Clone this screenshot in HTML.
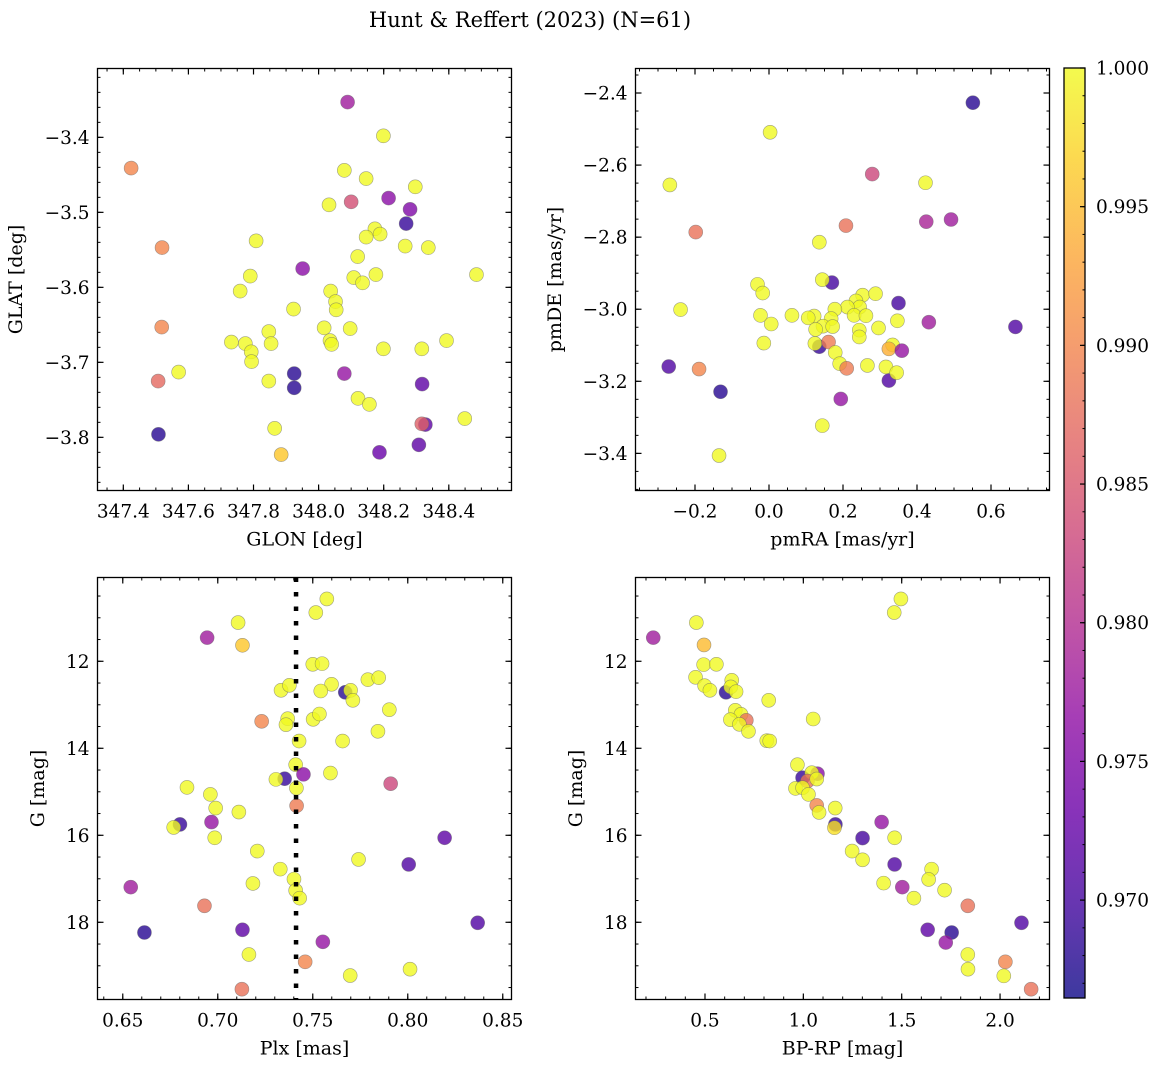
<!DOCTYPE html>
<html><head><meta charset="utf-8"><style>
html,body{margin:0;padding:0;background:#fff;}
svg{display:block;font-family:"DejaVu Serif","Liberation Serif",serif;}
</style></head><body>
<svg id="fig" width="1161" height="1067" viewBox="0 0 1161 1067" xmlns="http://www.w3.org/2000/svg">
<defs><linearGradient id="plasmaGrad" x1="0" y1="1" x2="0" y2="0"></linearGradient></defs>
<text x="530" y="27" text-anchor="middle" font-size="21">Hunt &amp; Reffert (2023) (N=61)</text>
</svg>
<script>
// ---- Panel 1 data: GLON / GLAT ----
const glon=[348.089,348.199,347.424,348.079,348.146,348.297,348.215,348.100,348.032,348.281,348.269,348.173,348.189,348.146,347.808,347.519,348.266,348.337,348.120,347.951,347.790,348.108,348.176,348.485,348.135,347.759,348.037,348.052,348.054,347.923,348.017,348.097,347.847,347.518,348.035,348.040,347.732,347.775,347.854,347.793,348.199,348.317,348.393,347.794,347.570,347.925,348.079,347.507,347.847,347.925,348.318,348.121,348.156,348.449,348.328,348.317,347.865,347.508,348.308,348.187,347.885];
const glat=[-3.353,-3.398,-3.441,-3.444,-3.455,-3.466,-3.481,-3.486,-3.490,-3.496,-3.515,-3.522,-3.529,-3.533,-3.538,-3.547,-3.545,-3.547,-3.559,-3.575,-3.585,-3.587,-3.583,-3.583,-3.594,-3.605,-3.605,-3.619,-3.630,-3.629,-3.654,-3.655,-3.659,-3.653,-3.671,-3.676,-3.673,-3.675,-3.675,-3.686,-3.682,-3.682,-3.671,-3.699,-3.713,-3.715,-3.715,-3.725,-3.725,-3.734,-3.729,-3.748,-3.756,-3.775,-3.783,-3.782,-3.788,-3.796,-3.810,-3.820,-3.823];
const prob1=[0.978,1,0.990,1,1,1,0.976,0.984,1,0.975,0.969,1,1,1,1,0.990,1,1,1,0.976,1,1,1,1,1,1,1,1,1,1,1,1,1,0.990,1,1,1,1,1,1,1,1,1,1,1,0.968,0.977,0.987,1,0.968,0.972,1,1,1,0.972,0.986,1,0.968,0.972,0.973,0.996];
// ---- Panel 2 data: pmRA / pmDE ----
const pmra=[0.551,0.003,0.279,0.423,-0.268,0.492,0.425,0.208,-0.198,0.136,0.170,0.144,-0.031,-0.017,0.253,0.288,0.350,-0.239,0.235,0.245,0.212,0.178,-0.023,0.062,0.122,0.106,0.230,0.262,0.168,0.006,0.146,0.172,0.126,0.347,0.432,0.296,0.666,0.244,0.244,-0.014,0.136,0.124,0.161,0.334,0.324,0.359,0.179,-0.271,0.191,-0.189,0.210,0.266,0.316,0.324,0.345,-0.131,0.194,0.144,-0.135];
const pmde=[-2.427,-2.509,-2.625,-2.649,-2.655,-2.751,-2.757,-2.768,-2.786,-2.814,-2.926,-2.918,-2.931,-2.955,-2.961,-2.957,-2.983,-3.001,-2.977,-2.994,-2.994,-3.000,-3.017,-3.017,-3.019,-3.024,-3.017,-3.018,-3.026,-3.041,-3.047,-3.048,-3.056,-3.032,-3.036,-3.052,-3.049,-3.058,-3.077,-3.094,-3.104,-3.095,-3.091,-3.099,-3.110,-3.115,-3.120,-3.159,-3.151,-3.166,-3.164,-3.156,-3.160,-3.198,-3.176,-3.229,-3.249,-3.323,-3.406];
const prob2=[0.968,1,0.983,1,1,0.978,0.979,0.988,0.988,1,0.970,1,1,1,1,1,0.970,1,1,1,1,1,1,1,1,1,1,1,1,1,1,1,1,1,0.978,1,0.971,1,1,1,0.969,1,0.989,1,0.994,0.977,1,0.971,1,0.990,0.989,1,1,0.971,1,0.968,0.977,1,1];
// ---- Panel 3 data: Plx / G ----
const plx=[0.7574,0.7516,0.7107,0.6944,0.7130,0.7500,0.7549,0.7790,0.7847,0.7333,0.7377,0.7599,0.7542,0.7671,0.7699,0.7711,0.7903,0.7231,0.7368,0.7359,0.7502,0.7535,0.7843,0.7428,0.7657,0.7410,0.7451,0.7352,0.7306,0.7593,0.7414,0.7910,0.6838,0.6961,0.7415,0.6989,0.7111,0.6801,0.6768,0.6967,0.6984,0.8194,0.7208,0.7741,0.8005,0.7329,0.7401,0.7185,0.7410,0.7431,0.6542,0.6930,0.8368,0.6614,0.7130,0.7553,0.7164,0.7460,0.7697,0.8012,0.7127];
const gmag3=[10.566,10.880,11.110,11.456,11.632,12.069,12.054,12.422,12.376,12.667,12.552,12.529,12.683,12.713,12.667,12.897,13.112,13.380,13.319,13.457,13.334,13.212,13.610,13.833,13.833,14.377,14.600,14.699,14.715,14.569,14.914,14.814,14.899,15.060,15.321,15.374,15.466,15.750,15.819,15.696,16.057,16.057,16.363,16.555,16.670,16.778,17.008,17.107,17.268,17.445,17.192,17.621,18.012,18.235,18.173,18.449,18.741,18.909,19.224,19.078,19.538];
const prob3=[1,1,1,0.978,0.996,1,1,1,1,1,1,1,1,0.968,1,1,1,0.990,1,1,1,1,1,1,1,1,0.976,0.969,1,1,1,0.983,1,1,0.989,1,1,0.969,1,0.977,1,0.972,1,1,0.971,1,1,1,1,1,0.978,0.988,0.971,0.968,0.972,0.977,1,0.990,1,1,0.988];
const plxRef=[0.7412];
// ---- Panel 4 data: BP-RP / G ----
const bprp=[1.496,1.462,0.456,0.237,0.495,0.493,0.558,0.452,0.498,0.525,0.607,0.636,0.631,0.658,0.824,1.050,0.654,0.683,0.710,0.629,0.675,0.721,0.814,0.829,0.970,0.996,1.072,1.043,1.021,1.068,0.960,0.996,1.026,1.068,1.080,1.162,1.163,1.158,1.398,1.301,1.464,1.248,1.301,1.464,1.652,1.637,1.408,1.503,1.718,1.562,1.836,2.109,1.632,1.754,1.724,1.836,2.027,1.837,2.019,2.158];
const gmag4=[10.566,10.880,11.110,11.456,11.624,12.077,12.069,12.368,12.560,12.667,12.713,12.437,12.590,12.698,12.897,13.327,13.127,13.219,13.357,13.342,13.449,13.610,13.825,13.833,14.377,14.676,14.584,14.561,14.753,14.707,14.922,14.906,15.060,15.313,15.474,15.374,15.750,15.827,15.696,16.064,16.057,16.363,16.563,16.670,16.778,17.015,17.100,17.192,17.261,17.445,17.621,18.012,18.173,18.235,18.465,18.741,18.909,19.078,19.232,19.538];
const prob4=[1,1,1,0.978,0.995,1,1,1,1,1,0.968,1,1,1,1,1,1,1,0.988,1,1,1,1,1,1,0.969,0.976,1,0.988,1,1,1,1,0.990,1,1,0.969,0.998,0.977,0.970,1,1,1,0.971,1,1,1,0.978,1,1,0.988,0.971,0.972,0.968,0.977,1,0.990,1,1,0.988];
// ---- Tick labels ----
const ticks1x=[347.4,347.6,347.8,348.0,348.2,348.4];
const ticks1y=[-3.4,-3.5,-3.6,-3.7,-3.8];
const ticks2x=[-0.2,0.0,0.2,0.4,0.6];
const ticks2y=[-2.4,-2.6,-2.8,-3.0,-3.2,-3.4];
const ticks3x=[0.65,0.70,0.75,0.80,0.85];
const ticksGy=[12,14,16,18];
const ticks4x=[0.5,1.0,1.5,2.0];
const cbarTicks=[0.970,0.975,0.980,0.985,0.990,0.995,1.000];
const cmin=0.96647, cmax=1.0;

const NS="http://www.w3.org/2000/svg";
const svg=document.getElementById('fig');
const TF=18.5, LF=19;
function mk(tag,attrs,parent){const e=document.createElementNS(NS,tag);for(const k in attrs)e.setAttribute(k,attrs[k]);(parent||svg).appendChild(e);return e;}
const plasma=[[13,8,135],[65,4,157],[106,0,168],[143,13,164],[177,42,144],[204,71,120],[225,100,98],[242,132,75],[252,166,54],[252,206,37],[240,249,33]];
function cmap(v){let t=(v-cmin)/(cmax-cmin);t=Math.max(0,Math.min(1,t));const s=t*10;const i=Math.min(9,Math.floor(s));const f=s-i;const a=plasma[i],b=plasma[i+1];return 'rgb('+[0,1,2].map(k=>Math.round(a[k]+(b[k]-a[k])*f)).join(',')+')';}
function fmt(v,d){return (v<0?'\u2212':'')+Math.abs(v).toFixed(d);}

// ylim given as [value at bottom, value at top]
function panel(name,box,xlim,ylim,xt,yt,xd,yd,xminor,yminor,xlabel,ylabel,ylabelX){
  const [L,T,R,B]=box;
  const sx=v=>L+(v-xlim[0])/(xlim[1]-xlim[0])*(R-L);
  const sy=v=>B-(v-ylim[0])/(ylim[1]-ylim[0])*(B-T);
  const g=mk('g',{});
  
  
  const mt=mk('g',{stroke:'#000','stroke-width':1},g);
  
  
  let start=Math.ceil(xlim[0]/xminor-1e-6);
  for(let k=start;k*xminor<=xlim[1];k++){const x=sx(k*xminor);mk('line',{x1:x,x2:x,y1:B,y2:B-3},mt);mk('line',{x1:x,x2:x,y1:T,y2:T+3},mt);}
  const ylo=Math.min(ylim[0],ylim[1]),yhi=Math.max(ylim[0],ylim[1]);
  start=Math.ceil(ylo/yminor-1e-6);
  for(let k=start;k*yminor<=yhi;k++){const y=sy(k*yminor);mk('line',{x1:L,x2:L+3,y1:y,y2:y},mt);mk('line',{x1:R,x2:R-3,y1:y,y2:y},mt);}
  xt.forEach(v=>{const x=sx(v);
    mk('line',{x1:x,x2:x,y1:B,y2:B-6,stroke:'#000','stroke-width':1.2},g);
    mk('line',{x1:x,x2:x,y1:T,y2:T+6,stroke:'#000','stroke-width':1.2},g);
    const t=mk('text',{x:x,y:B+27,'text-anchor':'middle','font-size':TF},g);t.textContent=fmt(v,xd);
    
    });
  yt.forEach(v=>{const y=sy(v);
    mk('line',{x1:L,x2:L+6,y1:y,y2:y,stroke:'#000','stroke-width':1.2},g);
    mk('line',{x1:R,x2:R-6,y1:y,y2:y,stroke:'#000','stroke-width':1.2},g);
    const t=mk('text',{x:L-8,y:y+6.5,'text-anchor':'end','font-size':TF},g);t.textContent=fmt(v,yd);
    
    });
  const xl=mk('text',{x:(L+R)/2,y:B+55,'text-anchor':'middle','font-size':LF},g);xl.textContent=xlabel;
  
  
  const cy=(T+B)/2;
  const yl=mk('text',{x:ylabelX,y:cy,'text-anchor':'middle','font-size':LF,transform:'rotate(-90 '+ylabelX+' '+cy+')'},g);yl.textContent=ylabel;
  
  
  return {g,sx,sy,box};
}
function scatter(p,name,xs,ys,ps){
  const [L,T,R,B]=p.box;
  const cid='clip-'+name;
  const cp=mk('clipPath',{id:cid},svg);mk('rect',{x:L,y:T,width:R-L,height:B-T},cp);
  const g=mk('g',{'clip-path':'url(#'+cid+')'},p.g);
  
  
  for(let i=0;i<xs.length;i++){
    const c=mk('circle',{cx:p.sx(xs[i]),cy:p.sy(ys[i]),r:7,fill:cmap(ps[i]),'fill-opacity':0.8,stroke:'#666','stroke-opacity':0.6,'stroke-width':0.6},g);
    
    
  }
}
function frame(p){const [L,T,R,B]=p.box;const f=mk('rect',{x:L,y:T,width:R-L,height:B-T,fill:'none',stroke:'#000','stroke-width':1.3},p.g);
  
  }

const p1=panel('glon-glat',[97.5,68.5,511.5,490.5],[347.3207,348.5926],[-3.8709,-3.3082],ticks1x,ticks1y,1,1,0.05,0.02,'GLON [deg]','GLAT [deg]',22);
scatter(p1,'glon-glat',glon,glat,prob1);frame(p1);
const p2=panel('pm',[635.5,68.5,1049.5,490.5],[-0.3608,0.7581],[-3.503,-2.332],ticks2x,ticks2y,1,1,0.05,0.05,'pmRA [mas/yr]','pmDE [mas/yr]',561);
scatter(p2,'pm',pmra,pmde,prob2);frame(p2);
const p3=panel('plx-g',[97.5,577.5,511.5,999.5],[0.6367,0.8546],[19.775,10.074],ticks3x,ticksGy,2,0,0.01,0.5,'Plx [mas]','G [mag]',44);
scatter(p3,'plx-g',plx,gmag3,prob3);
const dl=mk('line',{x1:p3.sx(plxRef[0]),x2:p3.sx(plxRef[0]),y1:577.5,y2:999.5,stroke:'#000','stroke-width':4.5,'stroke-dasharray':'4.5 10'},p3.g);


frame(p3);
const p4=panel('cmd',[635.5,577.5,1049.5,999.5],[0.1467,2.2514],[19.775,10.074],ticks4x,ticksGy,1,0,0.1,0.5,'BP-RP [mag]','G [mag]',582);
scatter(p4,'cmd',bprp,gmag4,prob4);frame(p4);

// ---- Colorbar ----
const grad=document.getElementById('plasmaGrad');
for(let i=0;i<=20;i++){const v=cmin+(cmax-cmin)*i/20;mk('stop',{offset:(i/20),'stop-color':cmap(v),'stop-opacity':0.8},grad);}
const CL=1064,CR=1085,CT=68,CB=998;
const cb=mk('g',{});


mk('rect',{x:CL,y:CT,width:CR-CL,height:CB-CT,fill:'url(#plasmaGrad)'},cb);
const cy=v=>CB-(v-cmin)/(cmax-cmin)*(CB-CT);
for(let k=967;k<=1000;k++){const y=cy(k/1000);mk('line',{x1:CR,x2:CR-2.5,y1:y,y2:y,stroke:'#000','stroke-width':1},cb);}
cbarTicks.forEach(v=>{const y=cy(v);mk('line',{x1:CR,x2:CR-5,y1:y,y2:y,stroke:'#000','stroke-width':1.2},cb);
  const t=mk('text',{x:1096,y:y+6.5,'font-size':TF},cb);t.textContent=v.toFixed(3);
  
  });
mk('rect',{x:CL,y:CT,width:CR-CL,height:CB-CT,fill:'none',stroke:'#000','stroke-width':1.3},cb);
</script>
</body></html>
